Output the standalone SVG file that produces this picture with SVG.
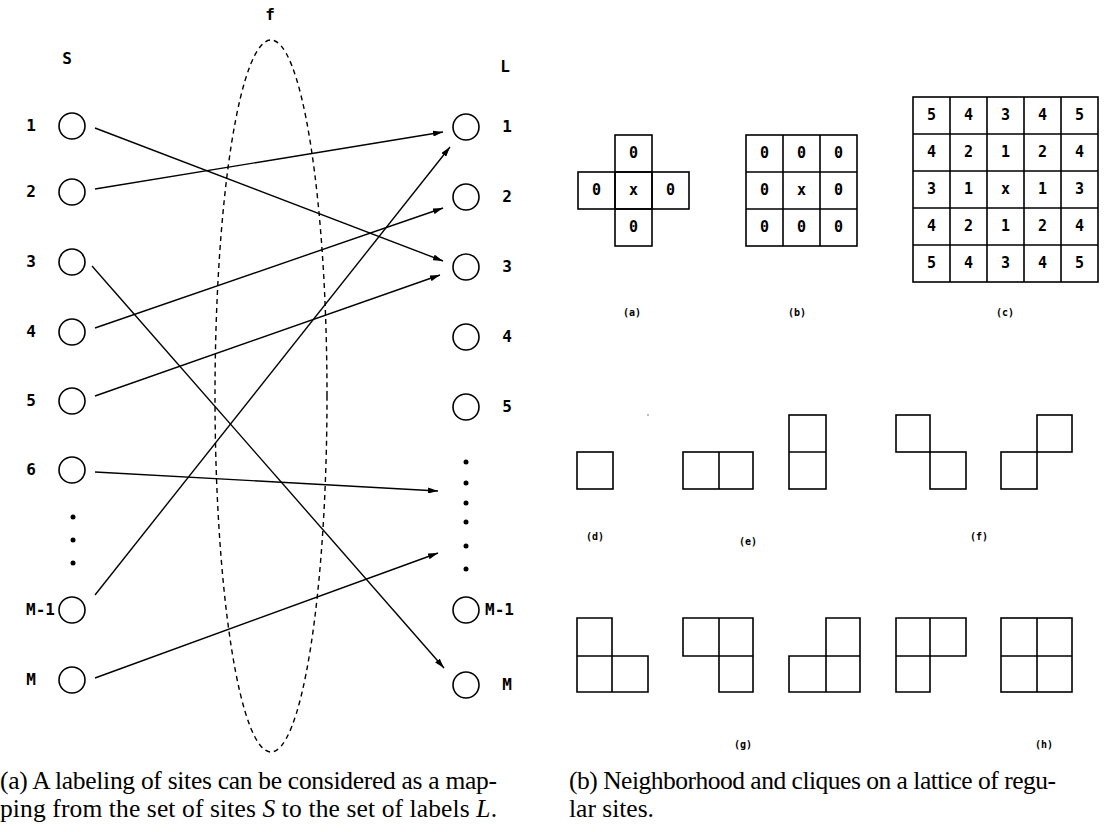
<svg xmlns="http://www.w3.org/2000/svg" width="1111" height="832" viewBox="0 0 1111 832">
<defs>
<style>
.px{font-family:"DejaVu Sans Mono","Liberation Mono",monospace;font-weight:bold;font-size:16px;fill:#000}
.num{font-family:"DejaVu Sans Mono","Liberation Mono",monospace;font-weight:bold;font-size:15px;fill:#000;text-anchor:middle}
.sm{font-family:"DejaVu Sans Mono","Liberation Mono",monospace;font-weight:bold;font-size:10px;fill:#000;text-anchor:middle}
.cap{font-family:"Liberation Serif","Times New Roman",serif;font-size:25.5px;fill:#000}
.site{fill:none;stroke:#000;stroke-width:1.6}
.cell{fill:none;stroke:#000;stroke-width:1.6}
.conn{stroke:#000;stroke-width:1.4;fill:none;marker-end:url(#ah)}
.dot{fill:#000}
</style>
<marker id="ah" viewBox="0 0 10 6" refX="10" refY="3" markerWidth="10" markerHeight="6" markerUnits="userSpaceOnUse" orient="auto">
<path d="M0,0 L10,3 L0,6 z" fill="#000"/>
</marker>
</defs>
<rect width="1111" height="832" fill="#fff"/>

<!-- mapping f -->
<g id="mapping-f">
<ellipse cx="271" cy="396" rx="56" ry="356" fill="none" stroke="#000" stroke-width="1.4" stroke-dasharray="5,4"/>
<text class="px" x="270" y="20" text-anchor="middle">f</text>
</g>

<!-- set S -->
<g id="set-S">
<text class="px" x="67" y="64" text-anchor="middle">S</text>
<g id="s1"><circle class="site" cx="72" cy="126" r="13"/><text class="px" x="31" y="131" text-anchor="middle">1</text></g>
<g id="s2"><circle class="site" cx="72" cy="192" r="13"/><text class="px" x="31" y="197" text-anchor="middle">2</text></g>
<g id="s3"><circle class="site" cx="72" cy="262" r="13"/><text class="px" x="31" y="267" text-anchor="middle">3</text></g>
<g id="s4"><circle class="site" cx="72" cy="332" r="13"/><text class="px" x="31" y="337" text-anchor="middle">4</text></g>
<g id="s5"><circle class="site" cx="72" cy="401" r="13"/><text class="px" x="31" y="406" text-anchor="middle">5</text></g>
<g id="s6"><circle class="site" cx="72" cy="470" r="13"/><text class="px" x="31" y="475" text-anchor="middle">6</text></g>
<g id="s-dots"><circle class="dot" cx="73" cy="517" r="2.5"/><circle class="dot" cx="73" cy="540" r="2.5"/><circle class="dot" cx="73" cy="563" r="2.5"/></g>
<g id="sM-1"><circle class="site" cx="72" cy="610" r="13"/><text class="px" x="55" y="615" text-anchor="end">M-1</text></g>
<g id="sM"><circle class="site" cx="72" cy="680" r="13"/><text class="px" x="31" y="685" text-anchor="middle">M</text></g>
</g>

<!-- set L -->
<g id="set-L">
<text class="px" x="505" y="72" text-anchor="middle">L</text>
<g id="l1"><circle class="site" cx="466" cy="127" r="13"/><text class="px" x="507" y="132" text-anchor="middle">1</text></g>
<g id="l2"><circle class="site" cx="466" cy="197" r="13"/><text class="px" x="507" y="202" text-anchor="middle">2</text></g>
<g id="l3"><circle class="site" cx="466" cy="267" r="13"/><text class="px" x="507" y="272" text-anchor="middle">3</text></g>
<g id="l4"><circle class="site" cx="466" cy="337" r="13"/><text class="px" x="507" y="342" text-anchor="middle">4</text></g>
<g id="l5"><circle class="site" cx="466" cy="407" r="13"/><text class="px" x="507" y="412" text-anchor="middle">5</text></g>
<g id="l-dots"><circle class="dot" cx="466" cy="462" r="2.5"/><circle class="dot" cx="466" cy="483" r="2.5"/><circle class="dot" cx="466" cy="503" r="2.5"/><circle class="dot" cx="466" cy="522" r="2.5"/><circle class="dot" cx="466" cy="546" r="2.5"/><circle class="dot" cx="466" cy="569" r="2.5"/></g>
<g id="lM-1"><circle class="site" cx="466" cy="610" r="13"/><text class="px" x="485" y="615">M-1</text></g>
<g id="lM"><circle class="site" cx="466" cy="685" r="13"/><text class="px" x="507" y="690" text-anchor="middle">M</text></g>
</g>

<!-- connectors -->
<g id="connectors">
<line class="conn" x1="95" y1="128" x2="443" y2="261"/>
<line class="conn" x1="95" y1="189" x2="443" y2="132"/>
<line class="conn" x1="92" y1="266" x2="444" y2="668"/>
<line class="conn" x1="95" y1="328" x2="443" y2="208"/>
<line class="conn" x1="95" y1="396" x2="440" y2="275"/>
<line class="conn" x1="95" y1="472" x2="438" y2="491"/>
<line class="conn" x1="95" y1="595" x2="450" y2="147"/>
<line class="conn" x1="95" y1="678" x2="438" y2="553"/>
</g>

<!-- (a) 4-neighborhood -->
<g id="nbr-a">
<rect class="cell" x="615" y="135" width="37" height="37"/>
<rect class="cell" x="578" y="172" width="37" height="37"/>
<rect class="cell" x="615" y="172" width="37" height="37"/>
<rect class="cell" x="652" y="172" width="37" height="37"/>
<rect class="cell" x="615" y="209" width="37" height="37"/>
<text class="num" x="633.5" y="158">0</text>
<text class="num" x="596.5" y="195">0</text>
<text class="num" x="633.5" y="195">x</text>
<text class="num" x="670.5" y="195">0</text>
<text class="num" x="633.5" y="232">0</text>
<text class="sm" x="632" y="316">(a)</text>
</g>

<!-- (b) 8-neighborhood -->
<g id="nbr-b">
<rect class="cell" x="746" y="135" width="111" height="111"/>
<path class="cell" d="M783,135V246M820,135V246M746,172H857M746,209H857"/>
<text class="num" x="764.5" y="158">0</text><text class="num" x="801.5" y="158">0</text><text class="num" x="838.5" y="158">0</text>
<text class="num" x="764.5" y="195">0</text><text class="num" x="801.5" y="195">x</text><text class="num" x="838.5" y="195">0</text>
<text class="num" x="764.5" y="232">0</text><text class="num" x="801.5" y="232">0</text><text class="num" x="838.5" y="232">0</text>
<text class="sm" x="797" y="316">(b)</text>
</g>

<!-- (c) order neighborhood -->
<g id="nbr-c">
<rect class="cell" x="913" y="97" width="185" height="185"/>
<path class="cell" d="M950,97V282M987,97V282M1024,97V282M1061,97V282M913,134H1098M913,171H1098M913,208H1098M913,245H1098"/>
<text class="num" x="931.5" y="120">5</text><text class="num" x="968.5" y="120">4</text><text class="num" x="1005.5" y="120">3</text><text class="num" x="1042.5" y="120">4</text><text class="num" x="1079.5" y="120">5</text>
<text class="num" x="931.5" y="157">4</text><text class="num" x="968.5" y="157">2</text><text class="num" x="1005.5" y="157">1</text><text class="num" x="1042.5" y="157">2</text><text class="num" x="1079.5" y="157">4</text>
<text class="num" x="931.5" y="194">3</text><text class="num" x="968.5" y="194">1</text><text class="num" x="1005.5" y="194">x</text><text class="num" x="1042.5" y="194">1</text><text class="num" x="1079.5" y="194">3</text>
<text class="num" x="931.5" y="231">4</text><text class="num" x="968.5" y="231">2</text><text class="num" x="1005.5" y="231">1</text><text class="num" x="1042.5" y="231">2</text><text class="num" x="1079.5" y="231">4</text>
<text class="num" x="931.5" y="268">5</text><text class="num" x="968.5" y="268">4</text><text class="num" x="1005.5" y="268">3</text><text class="num" x="1042.5" y="268">4</text><text class="num" x="1079.5" y="268">5</text>
<text class="sm" x="1005" y="316">(c)</text>
</g>

<!-- (d) single-site clique -->
<g id="clique-d">
<rect class="cell" x="577" y="452" width="36" height="37"/>
<text class="sm" x="595" y="540">(d)</text>
</g>
<circle cx="648" cy="415" r="0.8" fill="#666"/>

<!-- (e) pair cliques -->
<g id="clique-e">
<rect class="cell" x="683" y="452" width="70" height="37"/>
<line class="cell" x1="719" y1="452" x2="719" y2="489"/>
<rect class="cell" x="789" y="415" width="37" height="74"/>
<line class="cell" x1="789" y1="452" x2="826" y2="452"/>
<text class="sm" x="748" y="545">(e)</text>
</g>

<!-- (f) diagonal pair cliques -->
<g id="clique-f">
<rect class="cell" x="896" y="415" width="34" height="37"/>
<rect class="cell" x="930" y="452" width="36" height="37"/>
<rect class="cell" x="1037" y="415" width="35" height="37"/>
<rect class="cell" x="1001" y="452" width="36" height="37"/>
<text class="sm" x="979" y="540">(f)</text>
</g>

<!-- (g) triple cliques -->
<g id="clique-g">
<path class="cell" d="M577,618H612V656H648V692H577Z M577,656H612V692"/>
<path class="cell" d="M683,618H753V692H719V656H683Z M719,618V656H753"/>
<path class="cell" d="M826,618H860V692H789V656H826Z M826,656V692M826,656H860"/>
<text class="sm" x="743" y="748">(g)</text>
</g>

<!-- (h) triple and quadruple cliques -->
<g id="clique-h">
<path class="cell" d="M896,618H966V656H930V692H896Z M930,618V656H896"/>
<rect class="cell" x="1001" y="618" width="71" height="74"/>
<path class="cell" d="M1037,618V692M1001,656H1072"/>
<text class="sm" x="1044" y="748">(h)</text>
</g>

<!-- captions -->
<g id="captions">
<text class="cap" x="0" y="789" textLength="497" lengthAdjust="spacing">(a)  A labeling of sites can be considered as a map-</text>
<text class="cap" x="0" y="817" textLength="497" lengthAdjust="spacing">ping from the set of sites <tspan font-style="italic">S</tspan> to the set of labels <tspan font-style="italic">L</tspan>.</text>
<text class="cap" x="569" y="789" textLength="487" lengthAdjust="spacing">(b)  Neighborhood and cliques on a lattice of regu-</text>
<text class="cap" x="569" y="817">lar sites.</text>
</g>
</svg>
